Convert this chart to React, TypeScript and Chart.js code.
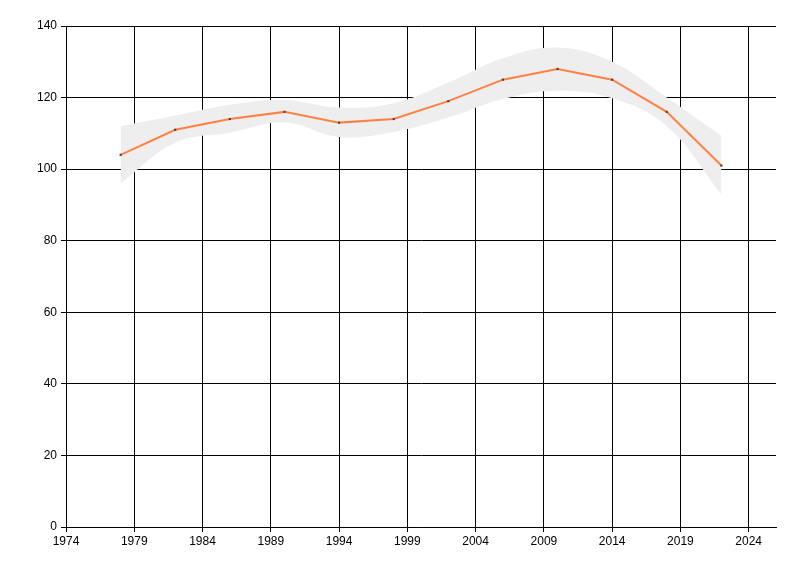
import React, { useEffect, useRef } from "react";
import { Chart, registerables } from "chart.js";

Chart.register(...registerables);

const YEARS = [1978, 1982, 1986, 1990, 1994, 1998, 2002, 2006, 2010, 2014, 2018, 2022];
const VALUES = [104, 111, 114, 116, 113, 114, 119, 125, 128, 125, 116, 101];
const UPPER = [112, 115, 118, 119.3, 117.2, 118.4, 124.2, 131, 134, 130, 120, 109.3];
const LOWER = [96, 107.4, 110.2, 113, 109, 110.4, 114.4, 119.6, 121.9, 119.8, 112, 93];
const X_TICKS = [1974, 1979, 1984, 1989, 1994, 1999, 2004, 2009, 2014, 2019, 2024];
const Y_TICKS = [0, 20, 40, 60, 80, 100, 120, 140];

export default function App() {
  const ref = useRef<HTMLCanvasElement | null>(null);
  useEffect(() => {
    if (!ref.current) return;
    const font = { family: "'Liberation Sans', Arial, sans-serif", size: 12 };
    const chart = new Chart(ref.current, {
      type: "line",
      data: {
        datasets: [
          {
            label: "value",
            data: YEARS.map((x, i) => ({ x, y: VALUES[i] })),
            borderColor: "rgb(255,128,64)",
            borderWidth: 2,
            tension: 0,
            pointStyle: "rect",
            pointRadius: 1.5,
            pointBackgroundColor: "#444",
            pointBorderColor: "#444",
            pointBorderWidth: 0,
            fill: false,
            order: 0,
          },
          {
            label: "upper",
            data: YEARS.map((x, i) => ({ x, y: UPPER[i] })),
            borderWidth: 0,
            borderColor: "rgba(0,0,0,0)",
            pointRadius: 0,
            tension: 0.4,
            fill: false,
            order: 2,
          },
          {
            label: "lower",
            data: YEARS.map((x, i) => ({ x, y: LOWER[i] })),
            borderWidth: 0,
            borderColor: "rgba(0,0,0,0)",
            backgroundColor: "#eeeeee",
            pointRadius: 0,
            tension: 0.4,
            fill: "-1",
            order: 1,
          },
        ],
      },
      options: {
        animation: false,
        responsive: false,
        layout: { padding: { top: 26, right: 24, left: 0, bottom: 0 } },
        plugins: { legend: { display: false }, tooltip: { enabled: false } },
        scales: {
          x: {
            type: "linear",
            min: 1974,
            max: 2026,
            afterBuildTicks: (s: any) => {
              s.ticks = X_TICKS.map((v) => ({ value: v }));
            },
            afterFit: (s: any) => {
              s.height = 49;
            },
            ticks: {
              font,
              color: "#000",
              padding: 2,
              maxRotation: 0,
              autoSkip: false,
              callback: (v: any) => String(v),
            },
            grid: { color: "#000", lineWidth: 1, tickLength: 5, tickColor: "#000" },
            border: { color: "#000", width: 1 },
          },
          y: {
            type: "linear",
            min: 0,
            max: 140,
            afterBuildTicks: (s: any) => {
              s.ticks = Y_TICKS.map((v) => ({ value: v }));
            },
            afterFit: (s: any) => {
              s.width = 66;
            },
            ticks: { font, color: "#000", padding: 4, autoSkip: false, callback: (v: any) => String(v) },
            grid: { color: "#000", lineWidth: 1, tickLength: 5, tickColor: "#000" },
            border: { color: "#000", width: 1 },
          },
        },
      },
    } as any);
    return () => chart.destroy();
  }, []);
  return (
    <div style={{ position: "fixed", left: 0, top: 0, width: 800, height: 576, background: "#fff" }}>
      <canvas ref={ref} width={800} height={576} style={{ width: 800, height: 576 }} />
    </div>
  );
}
